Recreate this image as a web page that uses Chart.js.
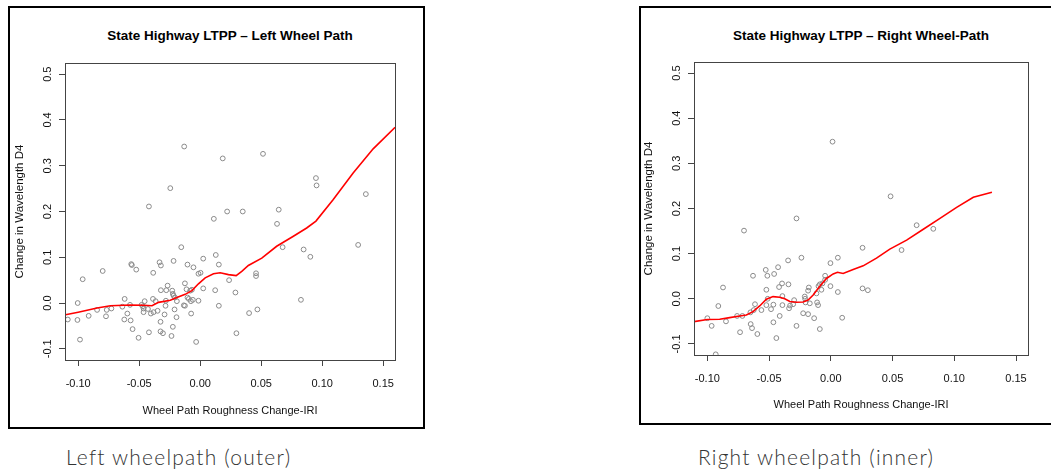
<!DOCTYPE html>
<html>
<head>
<meta charset="utf-8">
<title>State Highway LTPP - wheel path roughness vs wavelength D4</title>
<script src="https://cdn.jsdelivr.net/npm/chart.js"></script>
<style>
  html, body { margin: 0; padding: 0; background: #fff; }
  body { width: 1051px; height: 470px; position: relative; overflow: hidden; font-family: "Liberation Sans", Arial, sans-serif; }
  .frame { position: absolute; border: 2px solid #000; box-sizing: border-box; }
  canvas { position: absolute; }
  .title { position: absolute; width: 400px; text-align: center; font-weight: bold; font-size: 13.5px; line-height: 16px; color: #000; }
  .caption { position: absolute; font-family: Lato, "Open Sans", sans-serif; font-weight: 300; font-size: 21px; letter-spacing: 1.2px; line-height: 26px; color: #333; white-space: nowrap; }
</style>
</head>
<body>

<div class="frame" style="left:8px; top:6px; width:417px; height:423px;"></div>
<div class="frame" style="left:639px; top:6px; width:420px; height:419px;"></div>

<div class="title" style="left:30px; top:28px;">State Highway LTPP &ndash; Left Wheel Path</div>
<div class="title" style="left:661px; top:28px;">State Highway LTPP &ndash; Right Wheel-Path</div>

<canvas id="leftChart" width="412" height="419" style="left:10px; top:8px;"></canvas>
<canvas id="rightChart" width="410" height="415" style="left:641px; top:8px;"></canvas>

<div class="caption" style="left:66px; top:444px;">Left wheelpath (outer)</div>
<div class="caption" style="left:698px; top:444px;">Right wheelpath (inner)</div>

<script>
  // Axis ticks (same for both panels)
  const xTicks = [-0.10, -0.05, 0.00, 0.05, 0.10, 0.15];
  const yTicks = [-0.1, 0.0, 0.1, 0.2, 0.3, 0.4, 0.5];

  // Left wheel path: roughness change (IRI) vs change in wavelength D4
  const leftX = [
    -0.0131, 0.0185, 0.0515, -0.0245, -0.0420, 0.0221, 0.0349, 0.0112, 0.0949, 0.0954,
    0.1358, 0.0644, 0.0630, 0.0676, 0.0848, 0.0903, 0.1295, 0.0826, -0.0155, 0.0128,
    0.0025, 0.0153, -0.0218, -0.0104, -0.0055, -0.0014, 0.0003, -0.0333, -0.0322, -0.0385,
    -0.0565, -0.0560, -0.0524, -0.0799, -0.0963, 0.0458, 0.0458, 0.0237, -0.0125, 0.0025,
    0.0123, 0.0289, -0.0267, -0.0322, -0.0278, -0.0229, -0.0224, -0.0218, -0.0207, -0.0112,
    -0.0082, -0.0068, -0.0104, -0.0093, -0.0076, -0.0060, -0.0014, -0.0191, -0.0281, -0.0284,
    -0.0365, -0.0387, -0.0455, -0.0480, -0.0469, -0.0464, -0.0464, -0.0428, -0.0404, -0.0382,
    -0.0349, -0.0292, -0.0210, -0.0194, -0.0134, -0.0125, -0.0074, 0.0153, -0.0575, -0.0619,
    -0.0638, -0.0597, -0.0622, -0.0570, -0.0554, -0.0505, -0.0420, -0.0325, -0.0325, -0.0305,
    -0.0235, -0.0224, -0.0033, 0.0297, 0.0401, 0.0469, -0.0728, -0.0766, -0.0772, -0.0845,
    -0.0914, -0.1004, -0.1006, -0.0985, -0.1085
  ];
  const leftY = [
    0.342, 0.316, 0.326, 0.251, 0.211, 0.200, 0.200, 0.184, 0.273, 0.257,
    0.238, 0.204, 0.173, 0.122, 0.117, 0.101, 0.127, 0.007, 0.122, 0.105,
    0.097, 0.084, 0.092, 0.084, 0.078, 0.064, 0.066, 0.089, 0.082, 0.066,
    0.085, 0.083, 0.073, 0.070, 0.052, 0.065, 0.059, 0.050, 0.043, 0.032,
    0.028, 0.023, 0.038, 0.028, 0.028, 0.027, 0.020, 0.016, 0.012, 0.030,
    0.027, 0.029, 0.012, 0.009, 0.004, 0.007, 0.005, 0.004, 0.005, -0.006,
    0.004, 0.009, 0.004, -0.004, -0.007, -0.012, -0.020, -0.013, -0.023, -0.020,
    -0.017, -0.025, -0.014, -0.031, -0.005, -0.006, -0.023, -0.006, -0.004, 0.009,
    -0.008, -0.023, -0.036, -0.038, -0.057, -0.076, -0.064, -0.041, -0.062, -0.066,
    -0.072, -0.052, -0.085, -0.066, -0.022, -0.014, -0.012, -0.015, -0.029, -0.015,
    -0.028, 0.000, -0.037, -0.080, -0.036
  ];
  // Left wheel path: smoothed fit
  const leftFitX = [
    -0.1104, -0.1000, -0.0845, -0.0736, -0.0573, -0.0464, -0.0395, -0.0341, -0.0245, -0.0191,
    -0.0123, -0.0068, -0.0014, 0.0041, 0.0109, 0.0164, 0.0232, 0.0295, 0.0341, 0.0395,
    0.0505, 0.0627, 0.0764, 0.0873, 0.0949, 0.1091, 0.1254, 0.1418, 0.1598
  ];
  const leftFitY = [
    -0.0255, -0.0200, -0.0110, -0.0060, -0.0044, -0.0050, -0.0060, 0.0015, 0.0060, 0.0120,
    0.0190, 0.0270, 0.0420, 0.0550, 0.0640, 0.0660, 0.0620, 0.0600, 0.0690, 0.0820,
    0.0980, 0.1240, 0.1460, 0.1640, 0.1790, 0.2260, 0.2840, 0.3370, 0.3840
  ];

  // Right wheel path
  const rightX = [
    0.0014, 0.0484, 0.0695, 0.0830, 0.0573, 0.0257, 0.0257, 0.0300, 0.0092, 0.0057,
    -0.0003, 0.0057, -0.0003, -0.0046, -0.0046, -0.0068, -0.0089, -0.0100, -0.0076, -0.0116,
    -0.0111, -0.0103, -0.0170, -0.0178, -0.0184, -0.0211, -0.0208, -0.0205, -0.0238, -0.0278,
    -0.0224, -0.0184, -0.0135, -0.0089, -0.0278, -0.0297, -0.0305, -0.0330, -0.0338, -0.0343,
    -0.0346, -0.0395, -0.0392, -0.0392, -0.0414, -0.0419, -0.0427, -0.0459, -0.0465, -0.0484,
    -0.0465, -0.0441, -0.0511, -0.0522, -0.0522, -0.0514, -0.0527, -0.0562, -0.0614, -0.0630,
    -0.0624, -0.0651, -0.0649, -0.0638, -0.0595, -0.0703, -0.0716, -0.0759, -0.0735, -0.0849,
    -0.0873, -0.0911, -0.1000, -0.0965, -0.0932
  ];
  const rightY = [
    0.348, 0.227, 0.163, 0.155, 0.108, 0.113, 0.023, 0.019, -0.042, 0.091,
    0.079, 0.015, 0.028, 0.051, 0.042, 0.034, 0.032, 0.028, 0.020, 0.012,
    -0.008, -0.014, -0.010, 0.025, 0.018, 0.005, 0.000, -0.008, 0.091, 0.178,
    -0.032, -0.034, -0.043, -0.067, -0.060, -0.003, -0.012, -0.015, -0.021, 0.032,
    0.085, 0.034, 0.006, -0.014, -0.038, 0.026, 0.070, 0.055, -0.013, -0.023,
    -0.052, -0.087, 0.000, -0.014, 0.020, 0.051, 0.064, -0.025, -0.012, 0.051,
    -0.025, -0.030, -0.056, -0.065, -0.078, 0.151, -0.038, -0.038, -0.074, -0.050,
    0.025, -0.016, -0.043, -0.060, -0.123
  ];
  const rightFitX = [
    -0.1108, -0.1000, -0.0900, -0.0819, -0.0738, -0.0684, -0.0630, -0.0576, -0.0522, -0.0468,
    -0.0414, -0.0373, -0.0332, -0.0278, -0.0224, -0.0184, -0.0143, -0.0089, -0.0035, 0.0019,
    0.0054, 0.0100, 0.0181, 0.0262, 0.0370, 0.0478, 0.0614, 0.0749, 0.0884, 0.1019,
    0.1154, 0.1305
  ];
  const rightFitY = [
    -0.0506, -0.0460, -0.0454, -0.0417, -0.0380, -0.0358, -0.0284, -0.0159, -0.0010, 0.0048,
    0.0033, 0.0000, -0.0060, -0.0077, -0.0070, -0.0026, 0.0085, 0.0280, 0.0450, 0.0550,
    0.0587, 0.0560, 0.0650, 0.0730, 0.0900, 0.1100, 0.1300, 0.1540, 0.1780, 0.2026,
    0.2250, 0.2360
  ];

  Chart.defaults.font.family = '"Liberation Sans", Arial, sans-serif';
  Chart.defaults.color = '#111';

  const toPoints = (xs, ys) => xs.map((x, i) => ({ x: x, y: ys[i] }));

  // plain box round the plotting region, like a base R plot
  const plotBox = {
    id: 'plotBox',
    afterDraw(chart) {
      const a = chart.chartArea;
      const ctx = chart.ctx;
      ctx.save();
      ctx.strokeStyle = '#444';
      ctx.lineWidth = 1;
      ctx.strokeRect(Math.round(a.left) + 0.5, Math.round(a.top) + 0.5,
        Math.round(a.right - a.left), Math.round(a.bottom - a.top));
      ctx.restore();
    }
  };

  function makeChart(id, pts, fit, g) {
    return new Chart(document.getElementById(id), {
      type: 'scatter',
      data: {
        datasets: [
          {
            data: fit,
            showLine: true,
            borderColor: '#ff0000',
            borderWidth: 1.6,
            pointRadius: 0,
            tension: 0,
            fill: false
          },
          {
            data: pts,
            pointRadius: 2.4,
            pointBorderWidth: 1,
            pointBorderColor: '#8a8a8a',
            pointBackgroundColor: 'rgba(0,0,0,0)'
          }
        ]
      },
      options: {
        responsive: false,
        animation: false,
        devicePixelRatio: 1,
        layout: { padding: { top: g.top, right: g.right, left: 0, bottom: 0 } },
        plugins: { legend: { display: false }, tooltip: { enabled: false } },
        scales: {
          x: {
            type: 'linear',
            min: -0.1108,
            max: 0.1597,
            afterBuildTicks: s => { s.ticks = xTicks.map(v => ({ value: v })); },
            afterFit: s => { s.height = g.xh; },
            grid: { drawOnChartArea: false, drawTicks: true, tickLength: 6, color: '#444' },
            border: { display: false },
            ticks: {
              autoSkip: false, maxRotation: 0, padding: 11,
              font: { size: 11 }, color: '#111',
              callback: v => v.toFixed(2)
            },
            title: {
              display: true, text: 'Wheel Path Roughness Change-IRI',
              font: { size: 11 }, color: '#111',
              padding: { top: 0, bottom: g.xtp }
            }
          },
          y: {
            type: 'linear',
            min: -0.1245,
            max: 0.5245,
            afterBuildTicks: s => { s.ticks = yTicks.map(v => ({ value: v })); },
            afterFit: s => { s.width = g.yw; },
            grid: { drawOnChartArea: false, drawTicks: true, tickLength: 6, color: '#444' },
            border: { display: false },
            ticks: {
              autoSkip: false, minRotation: 90, maxRotation: 90,
              crossAlign: 'center', padding: 2,
              font: { size: 11 }, color: '#111',
              callback: v => v.toFixed(1)
            },
            title: {
              display: true, text: 'Change in Wavelength D4',
              font: { size: 11.5 }, color: '#111',
              padding: { top: g.ytp, bottom: 0 }
            }
          }
        }
      },
      plugins: [plotBox]
    });
  }

  makeChart('leftChart', toPoints(leftX, leftY), toPoints(leftFitX, leftFitY),
    { top: 55, right: 27, xh: 67, yw: 55, xtp: 9.4, ytp: 3.1 });
  makeChart('rightChart', toPoints(rightX, rightY), toPoints(rightFitX, rightFitY),
    { top: 54, right: 23, xh: 68, yw: 53, xtp: 11.4, ytp: 1.4 });
</script>
</body>
</html>
